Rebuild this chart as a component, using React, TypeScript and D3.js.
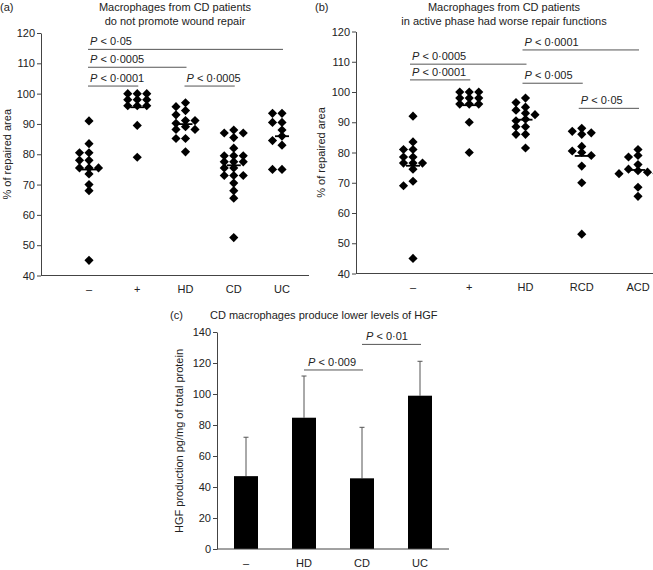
import { useEffect, useRef } from 'react';
import * as d3 from 'd3';

// panel (a): % of repaired area per group
const groupsA = ['–', '+', 'HD', 'CD', 'UC'];
const negA = [91, 83.5, 80.5, 80.5, 78, 78, 75.5, 75.5, 75.5, 73.5, 70, 68, 45];
const posA = [100, 100, 100, 98, 98, 98, 96, 96, 96, 89.5, 79];
const hdA = [97, 95.7, 94.4, 93, 91.1, 91.1, 90.2, 89.1, 88.2, 88.2, 85.2, 85.2, 80.8];
const cdA = [88, 87, 87, 85.5, 82, 79.5, 79.5, 79.5, 77.5, 77.5, 77.5, 75.5, 75.5, 73, 73, 73, 70.5, 68, 65.5, 52.5];
const ucA = [93.5, 93.5, 90.5, 90.5, 88, 86, 84.5, 83, 75, 75];

// panel (b)
const groupsB = ['–', '+', 'HD', 'RCD', 'ACD'];
const negB = [92, 83.5, 81, 81, 78.5, 78.5, 76.5, 76.5, 76.5, 74.5, 70.5, 69, 45];
const posB = [100, 100, 100, 98, 98, 98, 96, 96, 96, 90, 80];
const hdB = [98, 96.5, 95, 94, 93, 92.5, 91, 90.5, 88.5, 88.5, 86, 86, 81.5];
const rcdB = [88, 87, 86.5, 86, 82, 80.5, 80, 79, 75.5, 70, 53];
const acdB = [81, 79, 78.5, 76, 74.5, 74, 73.5, 73, 73, 68.5, 65.5];

const repairTicks = [40, 50, 60, 70, 80, 90, 100, 110, 120];

// significance brackets (y in data units)
const sigA = [
    { a: '–', b: 'UC', y: 114.6, p: '0·05' },
    { a: '–', b: 'HD', y: 108.7, p: '0·0005' },
    { a: '–', b: '+', y: 102.5, p: '0·0001' },
    { a: 'HD', b: 'CD', y: 102.5, p: '0·0005' },
];
const sigB = [
    { a: 'HD', b: 'ACD', y: 113.9, p: '0·0001' },
    { a: '–', b: 'HD', y: 109.2, p: '0·0005' },
    { a: '–', b: '+', y: 104, p: '0·0001' },
    { a: 'HD', b: 'RCD', y: 102.9, p: '0·005' },
    { a: 'RCD', b: 'ACD', y: 94.6, p: '0·05' },
];

// panel (c): HGF production
const hgfGroups = ['–', 'HD', 'CD', 'UC'];
const hgfMean = [47, 84.7, 45.6, 98.9];
const hgfUpper = [72.1, 111.6, 78.5, 121.1];
const hgfTicks = [0, 20, 40, 60, 80, 100, 120, 140];
const sigC = [
    { a: 'HD', b: 'CD', y: 115.5, p: '0·009' },
    { a: 'CD', b: 'UC', y: 132, p: '0·01' },
];

const FONT = '"Liberation Sans", Arial, sans-serif';
const TEXT = '#222';
const AXIS = '#444';

// column-dodge layout for the scatter points
function dodge(vals: number[], y: d3.ScaleLinear<number, number>, minDy: number) {
    const placed: { col: number; py: number }[] = [];
    const sorted = [...vals].sort((a, b) => b - a);
    const order = [0, -1, 1, -2, 2, -3, 3, -4, 4];
    return sorted.map(v => {
        const py = y(v);
        const col = order.find(k => !placed.some(p => p.col === k && Math.abs(p.py - py) < minDy)) ?? 0;
        placed.push({ col, py });
        return { v, col, py };
    });
}

const App = () => {
    const svgRef = useRef<SVGSVGElement>(null);

    useEffect(() => {
        if (!svgRef.current) return;
        const svg = d3.select(svgRef.current);
        svg.selectAll('*').remove();
        svg.style('font-family', FONT);

        const diamond = d3.symbol(d3.symbolSquare, 42);

        const yAxis = (g: d3.Selection<SVGGElement, unknown, null, undefined>) => {
            g.selectAll('.domain').attr('stroke', AXIS);
            g.selectAll('.tick line').attr('stroke', AXIS);
            g.selectAll('.tick text').attr('fill', TEXT).style('font-size', '11px').style('font-family', FONT);
        };

        const sigLabel = (
            g: d3.Selection<SVGGElement, unknown, null, undefined>,
            x1: number, x2: number, y: number, p: string, dx: number
        ) => {
            g.append('line')
                .attr('x1', x1).attr('x2', x2)
                .attr('y1', y).attr('y2', y)
                .attr('stroke', '#555').attr('stroke-width', 1);
            const t = g.append('text')
                .attr('x', x1 + dx).attr('y', y - 4)
                .attr('fill', TEXT)
                .style('font-size', '11px');
            t.append('tspan').style('font-style', 'italic').text('P');
            t.append('tspan').text(` < ${p}`);
        };

        // scatter panel
        const scatter = (
            groups: string[], data: number[][], sig: typeof sigA,
            axisX: number, axisEnd: number, xRange: [number, number],
            yTop: number, yBottom: number, labelX: number,
            tag: string, tagX: number, title: string[], titleX: number, sigStart: number
        ) => {
            const g = svg.append('g');
            const x = d3.scalePoint<string>().domain(groups).range(xRange);
            const y = d3.scaleLinear().domain([40, 120]).range([yBottom, yTop]);

            g.append('text').attr('x', tagX).attr('y', 11).attr('fill', TEXT)
                .style('font-size', '11px').text(tag);
            title.forEach((s, i) => {
                g.append('text').attr('x', titleX).attr('y', 11 + i * 13.5)
                    .attr('text-anchor', 'middle').attr('fill', TEXT)
                    .style('font-size', '11px').text(s);
            });

            g.append('g')
                .attr('transform', `translate(${axisX},0)`)
                .call(d3.axisLeft(y).tickValues(repairTicks).tickSize(4).tickSizeOuter(0).tickPadding(2))
                .call(yAxis);

            g.append('line')
                .attr('x1', axisX).attr('x2', axisEnd)
                .attr('y1', yBottom).attr('y2', yBottom)
                .attr('stroke', AXIS);

            g.selectAll('text.cat')
                .data(groups)
                .join('text')
                .attr('class', 'cat')
                .attr('x', d => x(d)!)
                .attr('y', yBottom + 17)
                .attr('text-anchor', 'middle')
                .attr('fill', TEXT)
                .style('font-size', '11px')
                .text(d => d);

            g.append('text')
                .attr('transform', `translate(${labelX},${(yTop + yBottom) / 2}) rotate(-90)`)
                .attr('text-anchor', 'middle')
                .attr('fill', TEXT)
                .style('font-size', '11px')
                .text('% of repaired area');

            const step = 9.5;
            data.forEach((vals, i) => {
                const cx = x(groups[i])!;
                const pts = dodge(vals, y, 6);
                g.selectAll(null)
                    .data(pts)
                    .join('path')
                    .attr('d', diamond)
                    .attr('transform', d => `translate(${cx + d.col * step},${d.py}) rotate(45)`)
                    .attr('fill', '#000');
                const m = d3.mean(vals)!;
                g.append('line')
                    .attr('x1', cx - 7).attr('x2', cx + 7)
                    .attr('y1', y(m)).attr('y2', y(m))
                    .attr('stroke', '#000').attr('stroke-width', 1.8);
            });

            sig.forEach(s => sigLabel(g, x(s.a)! + sigStart, x(s.b)! + 1, y(s.y), s.p, 2));
        };

        scatter(groupsA, [negA, posA, hdA, cdA, ucA], sigA, 41, 309, [89, 282], 33, 275.5, 11,
            '(a)', 0, ['Macrophages from CD patients', 'do not promote wound repair'], 175, -1);
        scatter(groupsB, [negB, posB, hdB, rcdB, acdB], sigB, 356, 653, [413, 638], 31.5, 273.5, 325,
            '(b)', 315, ['Macrophages from CD patients', 'in active phase had worse repair functions'], 504, -3);

        // bar panel (c)
        const gc = svg.append('g');
        const xc = d3.scaleBand<string>().domain(hgfGroups).range([217, 449]);
        const yc = d3.scaleLinear().domain([0, 140]).range([549, 332]);
        const barW = 24;

        gc.append('text').attr('x', 170).attr('y', 319).attr('fill', TEXT)
            .style('font-size', '11px').text('(c)');
        gc.append('text').attr('x', 210).attr('y', 319).attr('fill', TEXT)
            .style('font-size', '11px').text('CD macrophages produce lower levels of HGF');

        hgfGroups.forEach((c, i) => {
            const cx = xc(c)! + xc.bandwidth() / 2;
            gc.append('line')
                .attr('x1', cx).attr('x2', cx)
                .attr('y1', yc(hgfMean[i])).attr('y2', yc(hgfUpper[i]))
                .attr('stroke', '#555').attr('stroke-width', 1);
            gc.append('line')
                .attr('x1', cx - 2.5).attr('x2', cx + 2.5)
                .attr('y1', yc(hgfUpper[i])).attr('y2', yc(hgfUpper[i]))
                .attr('stroke', '#555').attr('stroke-width', 1);
        });

        gc.selectAll('rect.bar')
            .data(hgfGroups)
            .join('rect')
            .attr('class', 'bar')
            .attr('x', d => xc(d)! + xc.bandwidth() / 2 - barW / 2)
            .attr('width', barW)
            .attr('y', (_, i) => yc(hgfMean[i]))
            .attr('height', (_, i) => yc(0) - yc(hgfMean[i]))
            .attr('fill', '#000');

        gc.append('g')
            .attr('transform', 'translate(217,0)')
            .call(d3.axisLeft(yc).tickValues(hgfTicks).tickSize(4).tickSizeOuter(0).tickPadding(2))
            .call(yAxis);

        gc.append('line')
            .attr('x1', 217).attr('x2', 449)
            .attr('y1', yc(0)).attr('y2', yc(0))
            .attr('stroke', AXIS);

        gc.selectAll('text.cat')
            .data(hgfGroups)
            .join('text')
            .attr('class', 'cat')
            .attr('x', d => xc(d)! + xc.bandwidth() / 2)
            .attr('y', 567)
            .attr('text-anchor', 'middle')
            .attr('fill', TEXT)
            .style('font-size', '11px')
            .text(d => d);

        gc.append('text')
            .attr('transform', `translate(183,441) rotate(-90)`)
            .attr('text-anchor', 'middle')
            .attr('fill', TEXT)
            .style('font-size', '11px')
            .text('HGF production pg/mg of total protein');

        sigC.forEach(s => sigLabel(gc, xc(s.a)! + xc.bandwidth() / 2, xc(s.b)! + xc.bandwidth() / 2 + 1, yc(s.y), s.p, 4));
    }, []);

    return (
        <svg ref={svgRef} width={653} height={570}
            style={{ position: 'absolute', left: 0, top: 0, background: '#fff' }} />
    );
};

export default App;
